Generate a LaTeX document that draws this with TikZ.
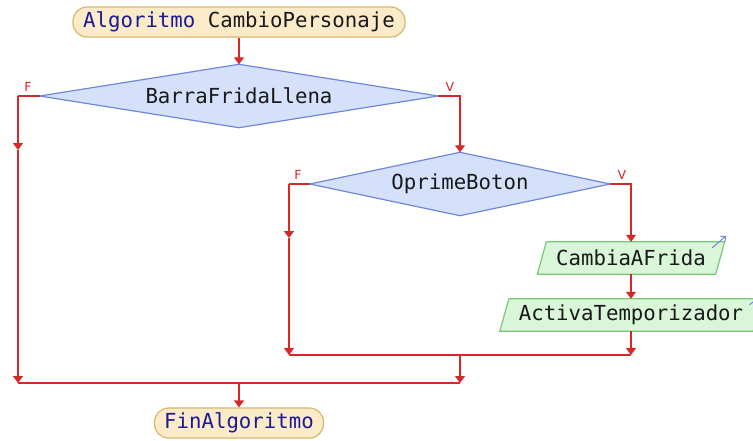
\documentclass[tikz,border=0pt]{standalone}
\usepackage{fontspec}
\setmonofont{DejaVu Sans Mono}
\newfontfamily\lblfont{DejaVu Sans}
\usetikzlibrary{arrows.meta,backgrounds}
\definecolor{flow}{RGB}{214,40,40}
\definecolor{dfill}{RGB}{213,225,251}
\definecolor{ddraw}{RGB}{110,135,216}
\definecolor{pfill}{RGB}{217,246,217}
\definecolor{pdraw}{RGB}{120,200,120}
\definecolor{tfill}{RGB}{252,235,200}
\definecolor{tdraw}{RGB}{216,182,112}
\definecolor{kw}{RGB}{26,26,150}
\definecolor{txt}{RGB}{25,25,25}
\tikzset{
  every node/.style={font=\ttfamily\fontsize{20.7}{24}\selectfont, text=txt},
  term/.style={draw=tdraw, fill=tfill, line width=1.2pt, rounded corners=14pt, minimum height=30pt, inner sep=0pt},
  dectext/.style={minimum height=63pt, inner sep=0pt},
  decbox/.style={draw=ddraw, fill=dfill, line width=1.2pt},
  iotext/.style={minimum height=32pt, inner sep=0pt},
  iobox/.style={draw=pdraw, fill=pfill, line width=1.2pt},
  flowline/.style={draw=flow, line width=1.3pt},
  flowarrow/.style={flowline, -{Triangle[width=10pt,length=7pt]}},
  branch/.style={font=\lblfont\fontsize{12.5}{14}\selectfont, text=flow},
  outarrow/.style={draw=ddraw, line width=1pt, -{Straight Barb[width=7pt,length=4pt]}}
}
\begin{document}
\begin{tikzpicture}[x=1pt,y=-1pt]
\useasboundingbox (0,0) rectangle (753,440);
\node[term, minimum width=332pt] (s) at (239,22) {\textcolor{kw}{Algoritmo} CambioPersonaje};
\node[dectext, minimum width=398pt] (d1) at (239,96) {BarraFridaLlena};
\node[dectext, minimum width=300pt] (d2) at (460,184) {OprimeBoton};
\node[iotext, minimum width=178pt] (p1) at (631,258) {CambiaAFrida};
\node[iotext, minimum width=253pt] (p2) at (631,315) {ActivaTemporizador};
\node[term, minimum width=169pt] (fin) at (239,423) {\textcolor{kw}{FinAlgoritmo}};
\begin{scope}[on background layer]
\draw[decbox] (d1.north) -- (d1.east) -- (d1.south) -- (d1.west) -- cycle;
\draw[decbox] (d2.north) -- (d2.east) -- (d2.south) -- (d2.west) -- cycle;
\draw[iobox] ([xshift=-4.5pt]p1.south west) -- ([xshift=-4.5pt]p1.south east) -- ([xshift=4.5pt]p1.north east) -- ([xshift=4.5pt]p1.north west) -- cycle;
\draw[iobox] ([xshift=-4.5pt]p2.south west) -- ([xshift=-4.5pt]p2.south east) -- ([xshift=4.5pt]p2.north east) -- ([xshift=4.5pt]p2.north west) -- cycle;
\end{scope}
\draw[outarrow] ([xshift=-8pt,yshift=-6pt]p1.north east) -- ([xshift=6pt,yshift=6pt]p1.north east);
\draw[outarrow] ([xshift=-8pt,yshift=-6pt]p2.north east) -- ([xshift=6pt,yshift=6pt]p2.north east);
% branch labels
\node[branch] (f1) at (28,87) {F};
\node[branch] (v1) at (450,87) {V};
\node[branch] (f2) at (298,175) {F};
\node[branch] (v2) at (622,175) {V};
% coordinates
\coordinate (lA) at (18,96);
\coordinate (lB) at (18,150);
\coordinate (lC) at (18,383);
\coordinate (mA) at (289,184);
\coordinate (mB) at (289,238);
\coordinate (mC) at (289,355);
\coordinate (rC) at (631,355);
\coordinate (jA) at (460,355);
\coordinate (jB) at (460,383);
\coordinate (kA) at (239,383);
% connectors
\draw[flowarrow] (s.south) -- (d1.north);
\draw[flowline] (d1.west) -- (lA);
\draw[flowarrow] (lA) -- (lB);
\draw[flowarrow] (lB) -- (lC);
\draw[flowarrow] (d1.east) -| (d2.north);
\draw[flowline] (d2.west) -- (mA);
\draw[flowarrow] (mA) -- (mB);
\draw[flowarrow] (mB) -- (mC);
\draw[flowarrow] (d2.east) -| (p1.north);
\draw[flowarrow] (p1.south) -- (p2.north);
\draw[flowarrow] (p2.south) -- (rC);
\draw[flowline] (mC) -- (rC);
\draw[flowarrow] (jA) -- (jB);
\draw[flowline] (lC) -- (jB);
\draw[flowarrow] (kA) -- (fin.north);
\end{tikzpicture}
\end{document}
